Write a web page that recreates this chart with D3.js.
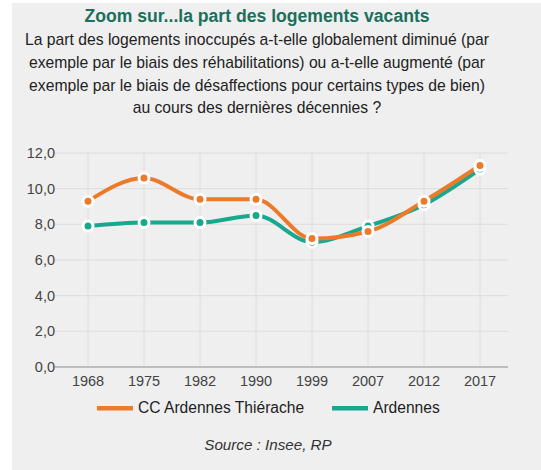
<!DOCTYPE html>
<html>
<head>
<meta charset="utf-8">
<script src="https://cdn.jsdelivr.net/npm/d3@7"></script>
<style>
  body { margin: 0; background: #fff; font-family: "Liberation Sans", Arial, sans-serif; }
  svg { display: block; }
</style>
</head>
<body>
<div id="chart"></div>
<script>
var svgWidth = 541;
var svgHeight = 470;

// data
var years = ["1968", "1975", "1982", "1990", "1999", "2007", "2012", "2017"];
var ccArdennes = [9.3, 10.6, 9.4, 9.4, 7.2, 7.6, 9.3, 11.3];
var ardennes = [7.9, 8.1, 8.1, 8.5, 7.0, 7.9, 9.1, 11.1];
var yTicks = [0, 2, 4, 6, 8, 10, 12];

var seriesNames = ["CC Ardennes Thiérache", "Ardennes"];
var seriesColors = ["#eb7a2b", "#17a88e"];

var margin = { top: 153, left: 60, right: 33, bottom: 103 };
var width = svgWidth - margin.left - margin.right;
var height = svgHeight - margin.top - margin.bottom;

var svg = d3.select("#chart")
  .append("svg")
  .attr("width", svgWidth)
  .attr("height", svgHeight);

// grey panel
svg.append("rect")
  .attr("x", 12).attr("y", 3)
  .attr("width", svgWidth - 12).attr("height", svgHeight - 3)
  .attr("fill", "#efefef");

// title + question
var cx = 257;
svg.append("text")
  .attr("x", cx).attr("y", 22)
  .attr("text-anchor", "middle")
  .style("font-size", "17.6px")
  .style("font-weight", "bold")
  .attr("fill", "#1b6f5c")
  .text("Zoom sur...la part des logements vacants");

var lines = [
  "La part des logements inoccupés a-t-elle globalement diminué (par",
  "exemple par le biais des réhabilitations) ou a-t-elle augmenté (par",
  "exemple par le biais de désaffections pour certains types de bien)",
  "au cours des dernières décennies ?"
];
svg.append("g").selectAll("text")
  .data(lines)
  .enter()
  .append("text")
  .attr("x", cx)
  .attr("y", (d, i) => 45 + i * 22.8)
  .attr("text-anchor", "middle")
  .style("font-size", "15.7px")
  .attr("fill", "#222")
  .text(d => d);

var chartGroup = svg.append("g")
  .attr("transform", `translate(${margin.left}, ${margin.top})`);

var xScale = d3.scaleBand().domain(years).range([0, width]);
var yScale = d3.scaleLinear().domain([0, 12]).range([height, 0]);
var xc = d => xScale(d) + xScale.bandwidth() / 2;

// grid
chartGroup.append("g")
  .selectAll("line")
  .data(yTicks)
  .enter()
  .append("line")
  .attr("x1", -5).attr("x2", width)
  .attr("y1", d => yScale(d)).attr("y2", d => yScale(d))
  .attr("stroke", "#dcdcdc")
  .attr("stroke-width", 1);

chartGroup.append("g")
  .selectAll("line")
  .data(years)
  .enter()
  .append("line")
  .attr("x1", d => xc(d)).attr("x2", d => xc(d))
  .attr("y1", 0).attr("y2", height)
  .attr("stroke", "#dcdcdc")
  .attr("stroke-width", 1);

// baseline
chartGroup.append("line")
  .attr("x1", -5).attr("x2", width)
  .attr("y1", height).attr("y2", height)
  .attr("stroke", "#bdbdbd")
  .attr("stroke-width", 2);

// axes labels
var leftAxis = d3.axisLeft(yScale)
  .tickValues(yTicks)
  .tickSize(0)
  .tickPadding(5)
  .tickFormat(d => d3.format(".1f")(d).replace(".", ","));
var yAxisG = chartGroup.append("g").call(leftAxis);
yAxisG.select(".domain").remove();
yAxisG.selectAll("text")
  .style("font-size", "14.5px")
  .style("font-family", "Liberation Sans, Arial, sans-serif")
  .attr("fill", "#444");

var bottomAxis = d3.axisBottom(xScale).tickSize(0).tickPadding(9);
var xAxisG = chartGroup.append("g")
  .attr("transform", `translate(0, ${height})`)
  .call(bottomAxis);
xAxisG.select(".domain").remove();
xAxisG.selectAll("text")
  .style("font-size", "14.5px")
  .style("font-family", "Liberation Sans, Arial, sans-serif")
  .attr("fill", "#444");

// lines
var seriesData = [ardennes, ccArdennes];
var seriesCol = [seriesColors[1], seriesColors[0]];
var line = d3.line()
  .x((d, i) => xc(years[i]))
  .y(d => yScale(d))
  .curve(d3.curveMonotoneX);

seriesData.forEach(function(vals, k) {
  chartGroup.append("path")
    .datum(vals)
    .attr("d", line)
    .attr("fill", "none")
    .attr("stroke", seriesCol[k])
    .attr("stroke-width", 4);
});

seriesData.forEach(function(vals, k) {
  chartGroup.append("g")
    .selectAll("circle")
    .data(vals)
    .enter()
    .append("circle")
    .attr("cx", (d, i) => xc(years[i]))
    .attr("cy", d => yScale(d))
    .attr("r", 5)
    .attr("fill", seriesCol[k])
    .attr("stroke", "#fff")
    .attr("stroke-width", 3);
});

// legend
var legendX = [97, 332];
var legend = svg.append("g");
seriesNames.forEach(function(name, i) {
  legend.append("rect")
    .attr("x", legendX[i]).attr("y", 406)
    .attr("width", 36).attr("height", 4.5)
    .attr("fill", seriesColors[i]);
  legend.append("text")
    .attr("x", legendX[i] + 41).attr("y", 413)
    .style("font-size", "15.6px")
    .attr("fill", "#222")
    .text(name);
});

svg.append("text")
  .attr("x", 268).attr("y", 450)
  .attr("text-anchor", "middle")
  .style("font-size", "15.2px")
  .style("font-style", "italic")
  .attr("fill", "#333")
  .text("Source : Insee, RP");
</script>
</body>
</html>
